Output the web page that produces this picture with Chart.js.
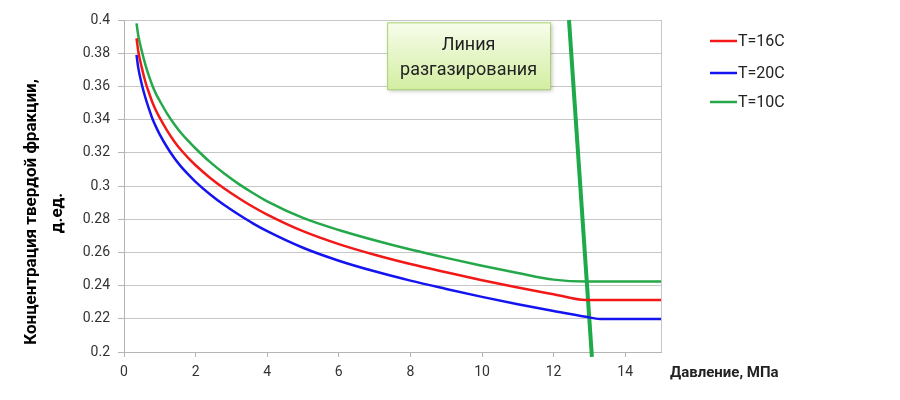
<!DOCTYPE html>
<html>
<head>
<meta charset="utf-8">
<script src="https://cdn.jsdelivr.net/npm/chart.js@4/dist/chart.umd.min.js"></script>
<style>
  html, body { margin: 0; padding: 0; background: #fff; }
  #wrap { width: 900px; height: 400px; }
</style>
</head>
<body>
<div id="wrap"><canvas id="chart"></canvas></div>
<script>
// Pressure, MPa (shared x values for all three curves)
const pressure = [0.35, 0.4, 0.5, 0.6, 0.7, 0.8, 0.9, 1.0, 1.2, 1.4, 1.6, 1.8, 2.0, 2.4, 2.8, 3.2, 3.6, 4, 5, 6, 7, 8, 9, 10, 11, 12, 12.9, 13.3, 14, 15]

// Solid fraction concentration, fraction units
const concT16 = [0.389, 0.381, 0.371, 0.3625, 0.356, 0.35, 0.3452, 0.341, 0.3335, 0.327, 0.3215, 0.3168, 0.3125, 0.305, 0.2985, 0.2928, 0.2875, 0.2828, 0.2728, 0.265, 0.2586, 0.253, 0.248, 0.2432, 0.2388, 0.2348, 0.2313, 0.2313, 0.2313, 0.2313]
const concT20 = [0.379, 0.371, 0.361, 0.353, 0.3463, 0.3402, 0.3353, 0.331, 0.3235, 0.317, 0.3115, 0.3068, 0.3025, 0.295, 0.2885, 0.2828, 0.2775, 0.2728, 0.2628, 0.255, 0.2486, 0.243, 0.238, 0.2332, 0.2288, 0.2247, 0.2212, 0.2199, 0.2199, 0.2199]
const concT10 = [0.398, 0.3905, 0.381, 0.3728, 0.366, 0.3601, 0.3552, 0.3512, 0.3438, 0.3374, 0.3318, 0.327, 0.3226, 0.3145, 0.3075, 0.3013, 0.2958, 0.2908, 0.2808, 0.2735, 0.2673, 0.2617, 0.2567, 0.252, 0.2476, 0.2436, 0.2424, 0.2424, 0.2424, 0.2424]

// Degassing line end points
const degasPressure = [12.43, 13.07]
const degasConc = [0.4, 0.197]

const seriesLabels = ['T=16C', 'T=20C', 'T=10C']
const xTicks = [0, 2, 4, 6, 8, 10, 12, 14]
const yTitle = ['Концентрация твердой фракции,', 'д.ед.']
const xTitle = 'Давление, МПа'
const noteLines = ['Линия', 'разгазирования']

const FONT = "Roboto, 'Noto Sans', sans-serif"

const toPoints = (xs, ys) => xs.map((x, i) => ({ x, y: ys[i] }))

// Draws the plot frame, axis titles, the callout box and the legend
const decorPlugin = {
  id: 'decor',
  afterDraw(chart) {
    const { ctx, chartArea: area, scales } = chart
    const x = scales.x
    const y = scales.y
    ctx.save()

    // right border of the plot area
    ctx.strokeStyle = '#c6c6c6'
    ctx.lineWidth = 1
    ctx.beginPath()
    ctx.moveTo(Math.round(area.right) + 0.5, area.top)
    ctx.lineTo(Math.round(area.right) + 0.5, area.bottom)
    ctx.stroke()

    // y axis title, two rotated lines
    ctx.fillStyle = '#000'
    ctx.font = 'bold 17px ' + FONT
    ctx.textAlign = 'center'
    ctx.textBaseline = 'middle'
    ctx.save()
    ctx.translate(32, 212)
    ctx.rotate(-Math.PI / 2)
    ctx.fillText(yTitle[0], 0, 0)
    ctx.restore()
    ctx.save()
    ctx.translate(58, 213)
    ctx.rotate(-Math.PI / 2)
    ctx.fillText(yTitle[1], 0, 0)
    ctx.restore()

    // x axis title
    ctx.font = 'bold 15px ' + FONT
    ctx.textAlign = 'left'
    ctx.fillStyle = '#222'
    ctx.fillText(xTitle, 670, 373)

    // callout box
    const bx0 = x.getPixelForValue(7.35)
    const bx1 = x.getPixelForValue(11.9)
    const by0 = y.getPixelForValue(0.3986)
    const by1 = y.getPixelForValue(0.3583)
    ctx.save()
    ctx.shadowColor = 'rgba(0,0,0,0.25)'
    ctx.shadowBlur = 4
    ctx.shadowOffsetX = 2
    ctx.shadowOffsetY = 2
    const grad = ctx.createLinearGradient(0, by0, 0, by1)
    grad.addColorStop(0, '#f8fdec')
    grad.addColorStop(1, '#d3eea2')
    ctx.fillStyle = grad
    ctx.fillRect(bx0, by0, bx1 - bx0, by1 - by0)
    ctx.restore()
    ctx.strokeStyle = '#a9d46e'
    ctx.lineWidth = 1
    ctx.strokeRect(bx0 + 0.5, by0 + 0.5, bx1 - bx0, by1 - by0)
    ctx.fillStyle = '#222'
    ctx.font = '18px ' + FONT
    ctx.textAlign = 'center'
    const cx = (bx0 + bx1) / 2
    ctx.fillText(noteLines[0], cx, by0 + 23)
    ctx.fillText(noteLines[1], cx, by0 + 48)

    // legend
    const rows = [41, 73, 102]
    ctx.font = '16px ' + FONT
    ctx.textAlign = 'left'
    chart.data.datasets.forEach((ds, i) => {
      if (ds.noLegend) return
      const ly = rows[i]
      ctx.strokeStyle = ds.borderColor
      ctx.lineWidth = 2.5
      ctx.beginPath()
      ctx.moveTo(710, ly)
      ctx.lineTo(737, ly)
      ctx.stroke()
      ctx.fillStyle = '#222'
      ctx.fillText(ds.label, 738, ly + 1)
    })

    ctx.restore()
  }
}

const lineDataset = (label, values, color) => ({
  label,
  data: toPoints(pressure, values),
  borderColor: color,
  borderWidth: 2.5,
  pointRadius: 0,
  cubicInterpolationMode: 'monotone',
  fill: false,
})

new Chart(document.getElementById('chart'), {
  type: 'line',
  data: {
    datasets: [
      lineDataset(seriesLabels[0], concT16, '#f31818'),
      lineDataset(seriesLabels[1], concT20, '#1414f0'),
      lineDataset(seriesLabels[2], concT10, '#25a84a'),
      {
        label: 'degas',
        noLegend: true,
        data: toPoints(degasPressure, degasConc),
        borderColor: '#1faa4a',
        borderWidth: 4,
        pointRadius: 0,
        clip: false,
      },
    ],
  },
  options: {
    responsive: true,
    maintainAspectRatio: false,
    animation: false,
    layout: {
      padding: { left: 0, right: 239, top: 20, bottom: 0 },
    },
    plugins: {
      legend: { display: false },
      tooltip: { enabled: false },
    },
    scales: {
      x: {
        type: 'linear',
        min: 0,
        max: 15,
        afterBuildTicks: (scale) => {
          scale.ticks = xTicks.map((v) => ({ value: v }))
        },
        afterFit: (scale) => {
          scale.height = 48
        },
        grid: {
          drawOnChartArea: false,
          drawTicks: true,
          tickLength: 5,
          tickColor: '#b4b4b4',
        },
        border: { color: '#b4b4b4' },
        ticks: {
          padding: 7,
          color: '#333',
          font: { size: 14, family: FONT },
          maxRotation: 0,
        },
      },
      y: {
        min: 0.2,
        max: 0.4,
        afterFit: (scale) => {
          scale.width = 124
        },
        ticks: {
          stepSize: 0.02,
          padding: 8,
          color: '#333',
          font: { size: 14, family: FONT },
          callback: (v) => String(+v.toFixed(2)),
        },
        grid: {
          color: '#c6c6c6',
          tickLength: 6,
          tickColor: '#b4b4b4',
        },
        border: { color: '#b4b4b4' },
      },
    },
  },
  plugins: [decorPlugin],
})
</script>
</body>
</html>
